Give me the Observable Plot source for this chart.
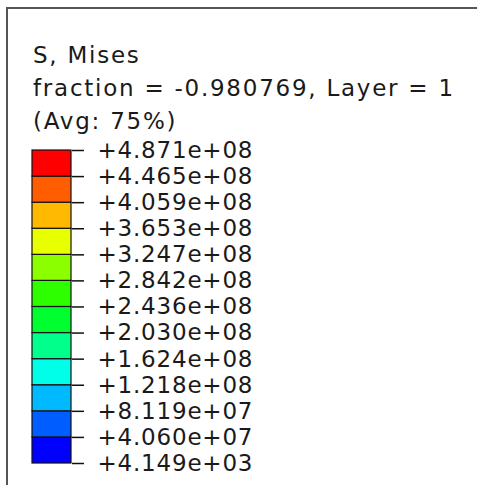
<!DOCTYPE html>
<html>
<head>
<meta charset="utf-8">
<script src="https://cdn.jsdelivr.net/npm/d3@7"></script>
<script src="https://cdn.jsdelivr.net/npm/@observablehq/plot@0.6"></script>
<style>
  html, body { margin: 0; padding: 0; background: #fff; overflow: hidden; }
  #wrap { position: relative; width: 477px; height: 485px; overflow: hidden; background: #fff; }
  #lineTop { position: absolute; left: 6px; top: 7px; width: 700px; height: 2px; background: #555; }
  #lineLeft { position: absolute; left: 6px; top: 7px; width: 2px; height: 700px; background: #555; }
  #title { position: absolute; left: 33px; top: 39px; font-family: "DejaVu Sans", sans-serif;
           font-size: 23px; line-height: 33px; letter-spacing: 1.75px; color: #1a1a1a; white-space: nowrap; }
  #chart { position: absolute; left: 0; top: 0; }
</style>
</head>
<body>
<div id="wrap">
  <div id="lineTop"></div>
  <div id="lineLeft"></div>
  <div id="title"></div>
  <div id="chart"></div>
</div>
<script>
const titleLines = ["S, Mises", "fraction = -0.980769, Layer = 1", "(Avg: 75%)"];
const levels = [4.149e3, 4.060e7, 8.119e7, 1.218e8, 1.624e8, 2.030e8, 2.436e8, 2.842e8, 3.247e8, 3.653e8, 4.059e8, 4.465e8, 4.871e8];
const tickLabels = ["+4.149e+03", "+4.060e+07", "+8.119e+07", "+1.218e+08", "+1.624e+08", "+2.030e+08", "+2.436e+08", "+2.842e+08", "+3.247e+08", "+3.653e+08", "+4.059e+08", "+4.465e+08", "+4.871e+08"];
const bandColors = ["#0000ff", "#005dff", "#00b9ff", "#00ffe8", "#00ff8b", "#00ff2e", "#2eff00", "#8bff00", "#e8ff00", "#ffb900", "#ff5d00", "#ff0000"];

document.getElementById("title").innerHTML = titleLines.map(t => `<div>${t}</div>`).join("");

const bands = bandColors.map((c, i) => ({lo: levels[i], hi: levels[i + 1], color: c}));

const chart = Plot.plot({
  width: 477,
  height: 485,
  marginTop: 150,
  marginBottom: 22,
  marginLeft: 32,
  marginRight: 406,
  style: {fontFamily: "DejaVu Sans, sans-serif", fontSize: "23px", letterSpacing: "0.8px", color: "#1a1a1a", background: "transparent", overflow: "visible"},
  x: {domain: [0, 1], axis: null},
  y: {domain: [levels[0], levels[levels.length - 1]], axis: null},
  color: {type: "identity"},
  marks: [
    Plot.rect(bands, {x1: 0, x2: 1, y1: "lo", y2: "hi", fill: "color", stroke: "#111", strokeWidth: 1.2}),
    Plot.axisY(levels, {
      anchor: "right",
      tickSize: 12,
      tickPadding: 14,
      stroke: "#111",
      strokeWidth: 1.5,
      fill: "#1a1a1a",
      label: null,
      tickFormat: d => tickLabels[levels.indexOf(d)]
    })
  ]
});
document.getElementById("chart").appendChild(chart);
</script>
</body>
</html>
